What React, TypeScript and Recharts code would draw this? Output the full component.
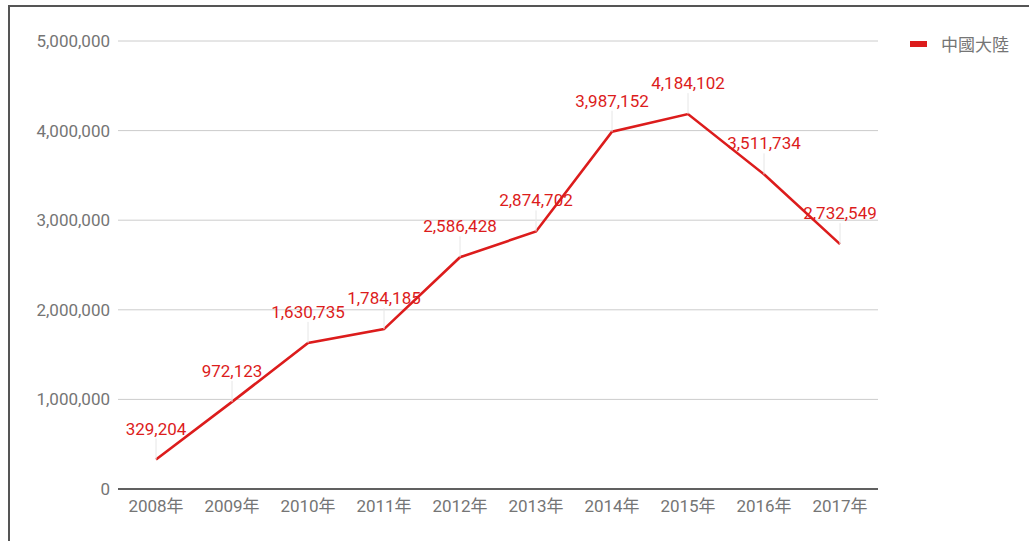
import React from "react";
import { LineChart, Line, XAxis, YAxis, CartesianGrid, Legend } from "recharts";

const categories = ["2008年", "2009年", "2010年", "2011年", "2012年", "2013年", "2014年", "2015年", "2016年", "2017年"];
const values = [329204, 972123, 1630735, 1784185, 2586428, 2874702, 3987152, 4184102, 3511734, 2732549];
const yTicks = [0, 1000000, 2000000, 3000000, 4000000, 5000000];
const seriesName = "中國大陸";

const data = categories.map((c, i) => ({ year: c, value: values[i] }));

const RED = "#dc1c1c";
const FONT = "Roboto, 'Noto Sans CJK TC', sans-serif";

const fmt = (v: number) => v.toLocaleString("en-US");

const PointLabel = (props: any) => {
  const { x, y, value } = props;
  if (x == null || y == null) return null;
  return (
    <g>
      <line x1={x} x2={x} y1={y - 21} y2={y} stroke="#e6e6e6" strokeWidth={1} />
      <text x={x} y={y - 25} textAnchor="middle" fill={RED} fontSize={17} fontFamily={FONT}>
        {fmt(value)}
      </text>
    </g>
  );
};

const LegendContent = () => (
  <div style={{ display: "flex", alignItems: "center", fontFamily: FONT, fontSize: 17, color: "#757575" }}>
    <div style={{ width: 17, height: 6, background: RED, marginRight: 14 }} />
    <span>{seriesName}</span>
  </div>
);

export default function App() {
  return (
    <div style={{ position: "absolute", left: 0, top: 0, width: 1029, height: 541, background: "#fff" }}>
      <div style={{ position: "absolute", left: 8, top: 5, width: 1021, height: 2, background: "#555" }} />
      <div style={{ position: "absolute", left: 8, top: 5, width: 2, height: 536, background: "#555" }} />
      <LineChart
        width={1029}
        height={541}
        data={data}
        margin={{ top: 41, right: 41, bottom: 22, left: 0 }}
        style={{ fontFamily: FONT }}
      >
        <CartesianGrid horizontal={true} vertical={false} stroke="#cccccc" />
        <XAxis
          dataKey="year"
          height={30}
          padding={{ left: 38, right: 38 }}
          tickLine={false}
          tickMargin={5}
          axisLine={{ stroke: "#333333", strokeWidth: 1.5 }}
          tick={{ fill: "#757575", fontSize: 17, fontFamily: FONT }}
          interval={0}
        />
        <YAxis
          width={118}
          domain={[0, 5000000]}
          ticks={yTicks}
          tickFormatter={fmt}
          axisLine={false}
          tickLine={false}
          tick={{ fill: "#757575", fontSize: 17, fontFamily: FONT }}
        />
        <Legend
          verticalAlign="top"
          align="right"
          layout="vertical"
          content={<LegendContent />}
          wrapperStyle={{ position: "absolute", left: 910, top: 31, width: 110 }}
        />
        <Line
          type="linear"
          dataKey="value"
          name={seriesName}
          stroke={RED}
          strokeWidth={2.6}
          dot={false}
          activeDot={false}
          isAnimationActive={false}
          label={<PointLabel />}
        />
      </LineChart>
    </div>
  );
}
